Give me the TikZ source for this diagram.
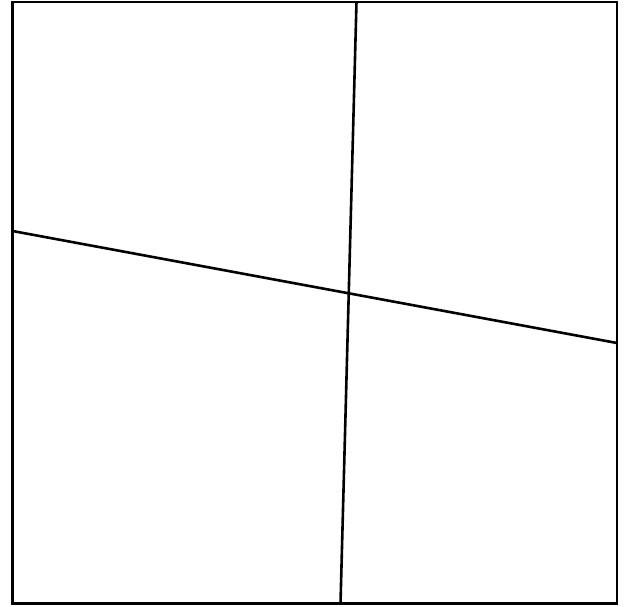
\documentclass[tikz,border=0pt]{standalone}
\begin{document}
\begin{tikzpicture}[x=1pt,y=-1pt,
  frame/.style={line width=2.6pt,draw=black},
  divider/.style={line width=2.6pt,draw=black}]
\useasboundingbox (0,0) rectangle (624,606);
\coordinate (tl) at (12.5,1.8);
\coordinate (br) at (617,603.5);
\draw[frame] (tl) rectangle (br);
\coordinate (vtop) at (356.5,1.8);
\coordinate (vbot) at (340.5,603.5);
\coordinate (hleft) at (12.5,231);
\coordinate (hright) at (617,343);
\draw[divider] (vtop) -- (vbot);
\draw[divider] (hleft) -- (hright);
\end{tikzpicture}
\end{document}
